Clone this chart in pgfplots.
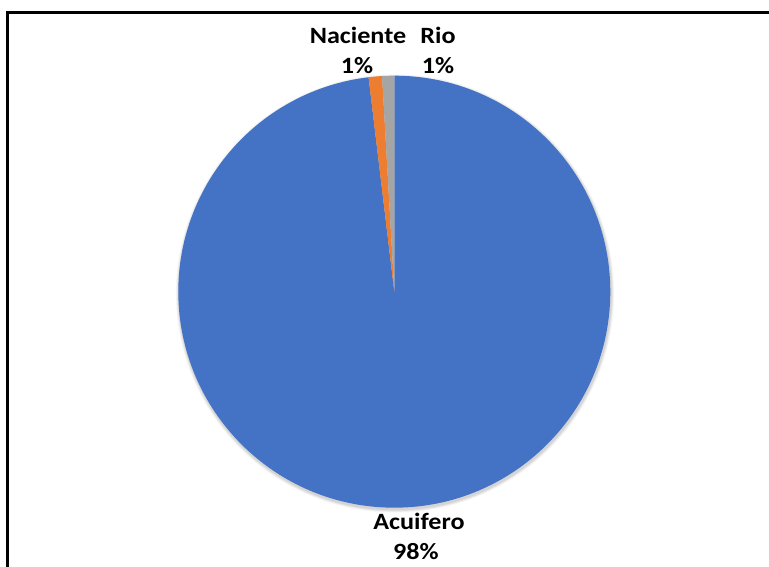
\documentclass[border=0pt]{standalone}
\usepackage{pgfplots}
\usepackage{pgfplotstable}
\pgfplotsset{compat=1.18}
\usepackage{fontspec}
\setmainfont{Carlito}
\definecolor{pieblue}{HTML}{4472C4}
\definecolor{pieorange}{HTML}{ED7D31}
\definecolor{piegray}{HTML}{A5A5A5}

\pgfplotstableread{
label value
Acuifero 98.1
Naciente 1.0
Rio 0.9
}\piedata

\pgfplotstablegetelem{0}{value}\of\piedata \let\va\pgfplotsretval
\pgfplotstablegetelem{1}{value}\of\piedata \let\vb\pgfplotsretval
\pgfplotstablegetelem{2}{value}\of\piedata \let\vc\pgfplotsretval
\pgfmathsetmacro\tot{\va+\vb+\vc}
\pgfmathsetmacro\aA{90-3.6*(\va/\tot)*100}
\pgfmathsetmacro\aB{\aA-3.6*(\vb/\tot)*100}
\pgfmathsetmacro\aC{\aB-3.6*(\vc/\tot)*100}
\newcommand\lab{\fontsize{17.5}{20}\selectfont\bfseries}
\def\R{162pt}

\begin{document}
\begin{tikzpicture}
\useasboundingbox (0,0) rectangle (576.75pt,425.25pt);
\begin{axis}[
  at={(0,0)}, anchor=south west,
  width=576.75pt, height=425.25pt, scale only axis,
  xmin=0, xmax=769, ymin=-567, ymax=0,
  hide axis, clip=false]
  % soft shadow
  \fill[black, opacity=0.03] (axis cs:395,-293.5) circle[radius=164.4pt];
  \fill[black, opacity=0.04] (axis cs:395,-293.5) circle[radius=163.8pt];
  \fill[black, opacity=0.05] (axis cs:395,-293.5) circle[radius=163.2pt];
  \fill[black, opacity=0.06] (axis cs:395,-293.5) circle[radius=162.6pt];
  \fill[pieblue] (axis cs:394.3,-291.7) -- ++(90:\R) arc[start angle=90, end angle=\aA, radius=\R] -- cycle;
  \fill[pieorange] (axis cs:394.3,-291.7) -- ++(\aA:\R) arc[start angle=\aA, end angle=\aB, radius=\R] -- cycle;
  \fill[piegray] (axis cs:394.3,-291.7) -- ++(\aB:\R) arc[start angle=\aB, end angle=\aC, radius=\R] -- cycle;
  % frame
  \draw[line width=1.6pt, black] (axis cs:7.5,-575) -- (axis cs:7.5,-12.5) -- (axis cs:780,-12.5);
  % labels
  \node[font=\lab, xscale=1.12] at (axis cs:358,-35) {Naciente};
  \node[font=\lab, xscale=1.12] at (axis cs:357,-66) {1\%};
  \node[font=\lab, xscale=1.12] at (axis cs:438,-35) {Rio};
  \node[font=\lab, xscale=1.12] at (axis cs:438,-66) {1\%};
  \node[font=\lab, xscale=1.12] at (axis cs:419,-521) {Acuifero};
  \node[font=\lab, xscale=1.12] at (axis cs:416,-552) {98\%};
\end{axis}
\end{tikzpicture}
\end{document}
